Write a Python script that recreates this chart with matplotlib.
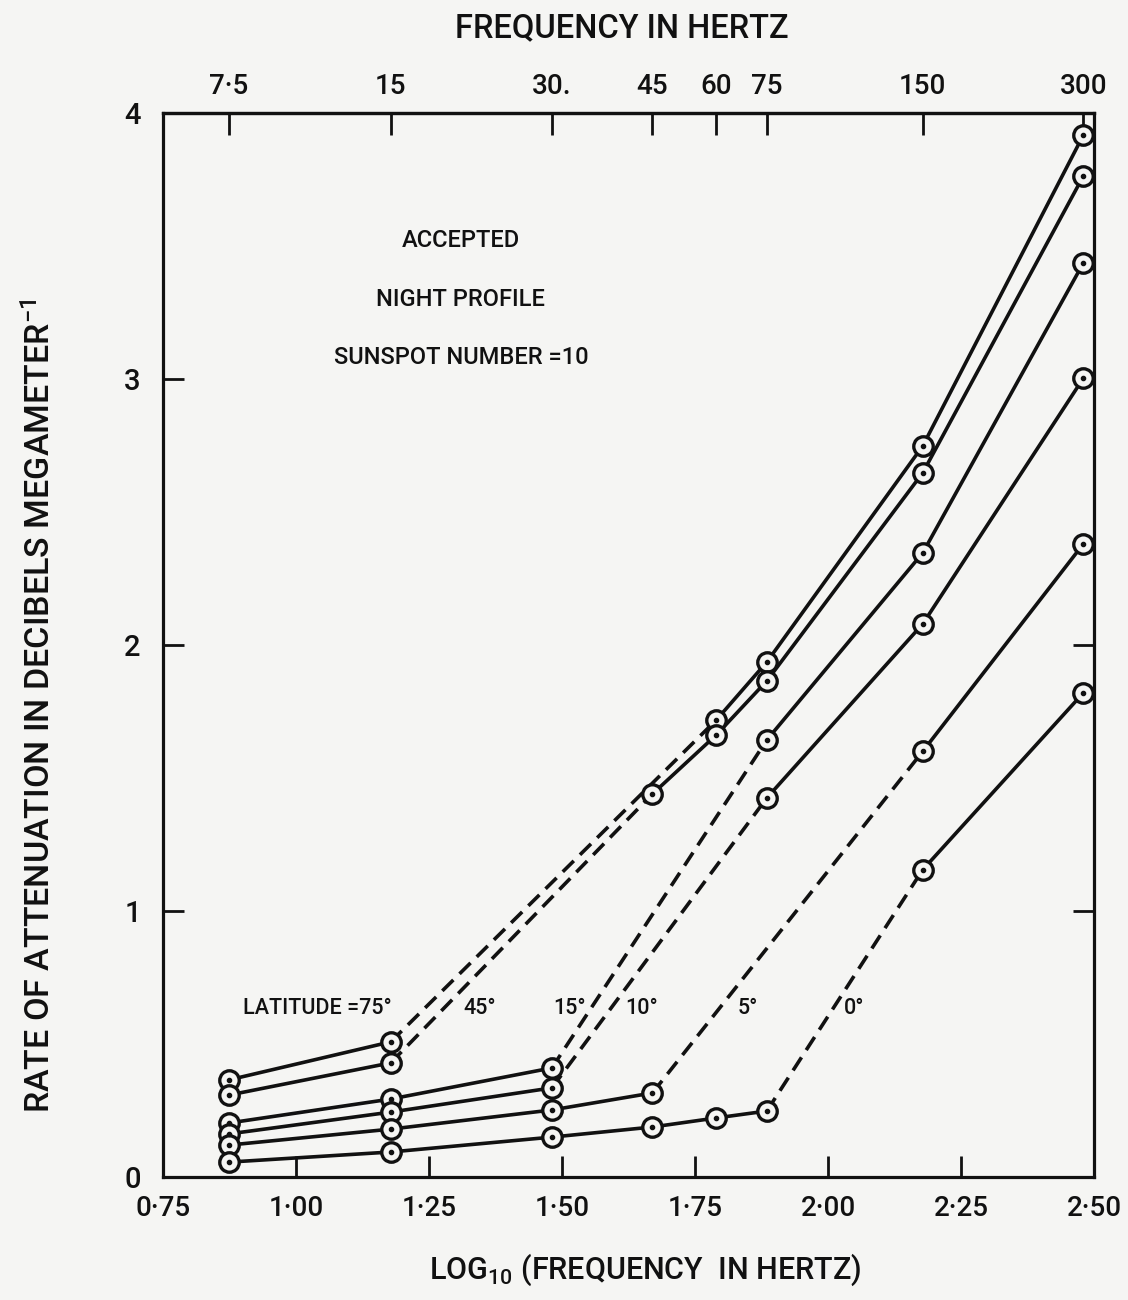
import numpy as np
import matplotlib
matplotlib.use('Agg')
import matplotlib.pyplot as plt

# frequencies of the computed points, and where they sit on the log10 axis
freq_hz = [7.5, 15, 30, 45, 60, 75, 150, 300]
freq_labels = ['7·5', '15', '30.', '45', '60', '75', '150', '300']
log_freq = [0.874, 1.178, 1.481, 1.670, 1.790, 1.885, 2.178, 2.480]

# attenuation rate (dB / Mm) per latitude, nan = no point at that frequency
nan = np.nan
lat_75 = [0.365, 0.508, nan, nan, 1.718, 1.936, 2.748, 3.917]
lat_45 = [0.308, 0.429, nan, 1.440, 1.662, 1.865, 2.647, 3.763]
lat_15 = [0.203, 0.293, 0.410, nan, nan, 1.643, 2.346, 3.436]
lat_10 = [0.162, 0.244, 0.335, nan, nan, 1.425, 2.079, 3.003]
lat_5 = [0.120, 0.180, 0.252, 0.316, nan, nan, 1.600, 2.380]
lat_0 = [0.056, 0.094, 0.150, 0.188, 0.222, 0.248, 1.155, 1.820]
series = [lat_75, lat_45, lat_15, lat_10, lat_5, lat_0]

# last frequency of the low-frequency branch; the jump after it is dashed
dash_after_hz = [15, 15, 30, 30, 45, 75]

lat_labels = ['LATITUDE =75°', '45°', '15°', '10°', '5°', '0°']
lat_label_x = [1.041, 1.345, 1.515, 1.65, 1.85, 2.05]
lat_label_y = 0.635

x_ticks = [0.75, 1.00, 1.25, 1.50, 1.75, 2.00, 2.25, 2.50]
x_ticklabels = ['0·75', '1·00', '1·25', '1·50', '1·75', '2·00', '2·25', '2·50']
y_ticks = [0, 1, 2, 3, 4]

notes = ['ACCEPTED', 'NIGHT PROFILE', 'SUNSPOT NUMBER =10']
notes_y = [3.52, 3.30, 3.08]

bg = '#f5f5f3'
ink = '#111111'
plt.rcParams['font.family'] = ['Roboto', 'DejaVu Sans']
plt.rcParams['font.weight'] = 'medium'
plt.rcParams['mathtext.fontset'] = 'custom'
plt.rcParams['mathtext.rm'] = 'Roboto:medium'
plt.rcParams['mathtext.default'] = 'rm'

fig = plt.figure(figsize=(11.28, 13.0), dpi=100, facecolor=bg)
ax = fig.add_axes([163 / 1128, 1 - 1177 / 1300, (1094 - 163) / 1128, (1177 - 113) / 1300])
ax.set_facecolor(bg)
ax.set_xlim(0.75, 2.50)
ax.set_ylim(0, 4)

x = np.array(log_freq)
for vals, cut in zip(series, dash_after_hz):
    y = np.array(vals)
    ok = ~np.isnan(y)
    low = ok & (np.array(freq_hz) <= cut)
    high = ok & (np.array(freq_hz) > cut)
    ax.plot(x[low], y[low], color=ink, lw=2.6, zorder=2, solid_capstyle='round')
    ax.plot(x[high], y[high], color=ink, lw=2.6, zorder=2, solid_capstyle='round')
    xl, yl = x[low][-1], y[low][-1]
    xh, yh = x[high][0], y[high][0]
    ax.plot([xl, xh], [yl, yh], color=ink, lw=2.6, ls=(0, (4.3, 2.4)), zorder=2)
    ax.plot(x[ok], y[ok], 'o', ms=14, mfc=bg, mec=ink, mew=2.4, zorder=3, clip_on=False)
    ax.plot(x[ok], y[ok], 'o', ms=3, color=ink, zorder=4, clip_on=False)

for lab, lx in zip(lat_labels, lat_label_x):
    ax.text(lx, lat_label_y, lab, fontsize=15.5, ha='center', va='center', color=ink)

for txt, ny in zip(notes, notes_y):
    ax.text(1.31, ny, txt, fontsize=17, ha='center', va='center', color=ink)

for s in ax.spines.values():
    s.set_linewidth(2.3)
    s.set_color(ink)

ax.set_xticks(x_ticks, labels=x_ticklabels)
ax.set_yticks(y_ticks)
ax.tick_params(axis='both', direction='in', length=15, width=2, colors=ink,
               labelsize=20, pad=13)
ax.tick_params(axis='y', right=True, pad=16, labelsize=21)

top = ax.secondary_xaxis('top')
top.set_xticks(log_freq, labels=freq_labels)
top.tick_params(direction='in', length=16, width=2, colors=ink, labelsize=20, pad=9)
top.spines['top'].set_linewidth(2.3)

fig.text(622 / 1128, 1 - 28 / 1300, 'FREQUENCY IN HERTZ', fontsize=23.5,
         ha='center', va='center', color=ink)
fig.text(645 / 1128, 1 - 1270 / 1300, 'LOG$_{10}$ (FREQUENCY  IN HERTZ)', fontsize=22,
         ha='center', va='center', color=ink)
fig.text(40 / 1128, 1 - 706 / 1300, 'RATE OF ATTENUATION IN DECIBELS MEGAMETER$^{-1}$',
         fontsize=24.5, rotation=90, ha='center', va='center', color=ink)

fig.savefig('out.png', dpi=100, facecolor=bg)
